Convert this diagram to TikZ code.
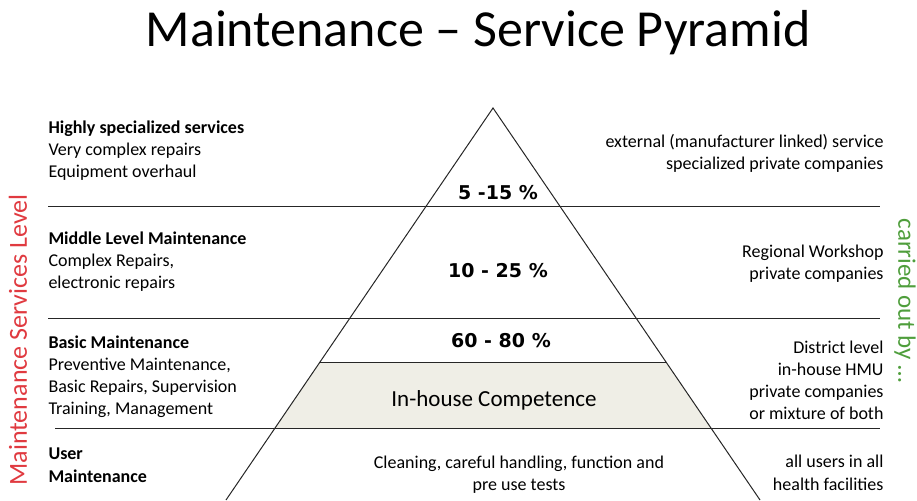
\documentclass[tikz,border=0pt]{standalone}
\usepackage{fontspec}
\setmainfont{Carlito}
\newfontfamily\pctfont{DejaVu Sans}
\usetikzlibrary{positioning, calc}
\definecolor{levelred}{HTML}{E03A40}
\definecolor{bygreen}{HTML}{4F9E3C}
\definecolor{housefill}{HTML}{EFEEE6}

\tikzset{
  lefttext/.style={anchor=base west, align=left, inner sep=0pt,
    font=\fontsize{18}{22}\selectfont},
  righttext/.style={anchor=base east, align=right, inner sep=0pt,
    font=\fontsize{18}{22}\selectfont},
  midtext/.style={anchor=base, align=center, inner sep=0pt,
    font=\fontsize{18}{22}\selectfont},
  pct/.style={anchor=base, inner sep=0pt,
    font=\pctfont\bfseries\fontsize{19}{20}\selectfont},
  sidelabel/.style={inner sep=0pt, font=\fontsize{25}{28}\selectfont}
}

\begin{document}
\begin{tikzpicture}[x=1pt, y=-1pt, line width=1pt, draw=black!85]
      \useasboundingbox (0,0) rectangle (917,500);

      % title
      \node[anchor=base, inner sep=0pt, font=\fontsize{52}{56}\selectfont]
        (title) at (478,47) {Maintenance -- Service Pyramid};

      % pyramid corners
      \coordinate (apex) at (493,108);
      \coordinate (bl) at (226,500);
      \coordinate (br) at (760,500);

      % in-house band, cut to the pyramid
      \begin{scope}
        \clip (apex) -- (bl) -- (br) -- cycle;
        \fill[housefill] (0,362) rectangle (917,428);
        \draw[black!85] (0,362) -- (917,362);
      \end{scope}

      % level rules across the page
      \foreach \y/\xa in {206/48, 318/48, 428/55}
        \draw[black!85] (\xa,\y) -- (880,\y);

      % pyramid sides
      \draw[black!85] (bl) -- (apex) -- (br);

      % service levels, left column (base = last line)
      \node[lefttext] (highly) at (48,177)
        {\textbf{Highly specialized services}\\Very complex repairs\\Equipment overhaul};
      \node[lefttext] (middle) at (48,288)
        {\textbf{Middle Level Maintenance}\\Complex Repairs,\\electronic repairs};
      \node[lefttext] (basic) at (48,414)
        {\textbf{Basic Maintenance}\\Preventive Maintenance,\\Basic Repairs, Supervision\\Training, Management};
      \node[lefttext, font=\fontsize{18}{23}\selectfont] (user) at (48,482)
        {\textbf{User}\\\textbf{Maintenance}};

      % shares inside the pyramid
      \node[pct] (pcttop) at (498,199) {5 -15 \%};
      \node[pct] (pctmid) at (498,277) {10 - 25 \%};
      \node[pct] (pctlow) at (501,347) {60 - 80 \%};
      \node[anchor=base, inner sep=0pt, font=\fontsize{23}{26}\selectfont]
        (inhouse) at (494,406) {In-house Competence};
      \node[midtext] (cleaning) at (519,490)
        {Cleaning, careful handling, function and\\pre use tests};

      % who does the work, right column
      \node[righttext] (ext) at (884,169)
        {external (manufacturer linked) service\\specialized private companies};
      \node[righttext] (regional) at (884,279)
        {Regional Workshop\\private companies};
      \node[righttext] (district) at (884,419)
        {District level\\in-house HMU\\private companies\\or mixture of both};
      \node[righttext, font=\fontsize{18}{23}\selectfont] (allusers) at (884,490)
        {all users in all\\health facilities};

      % side captions
      \node[sidelabel, text=levelred, rotate=90, font=\fontsize{26}{28}\selectfont]
        (levels) at (18,340) {Maintenance Services Level};
      \node[sidelabel, text=bygreen, rotate=-90] (carried) at (905,301)
        {carried out by \dots};

    \end{tikzpicture}
\end{document}
